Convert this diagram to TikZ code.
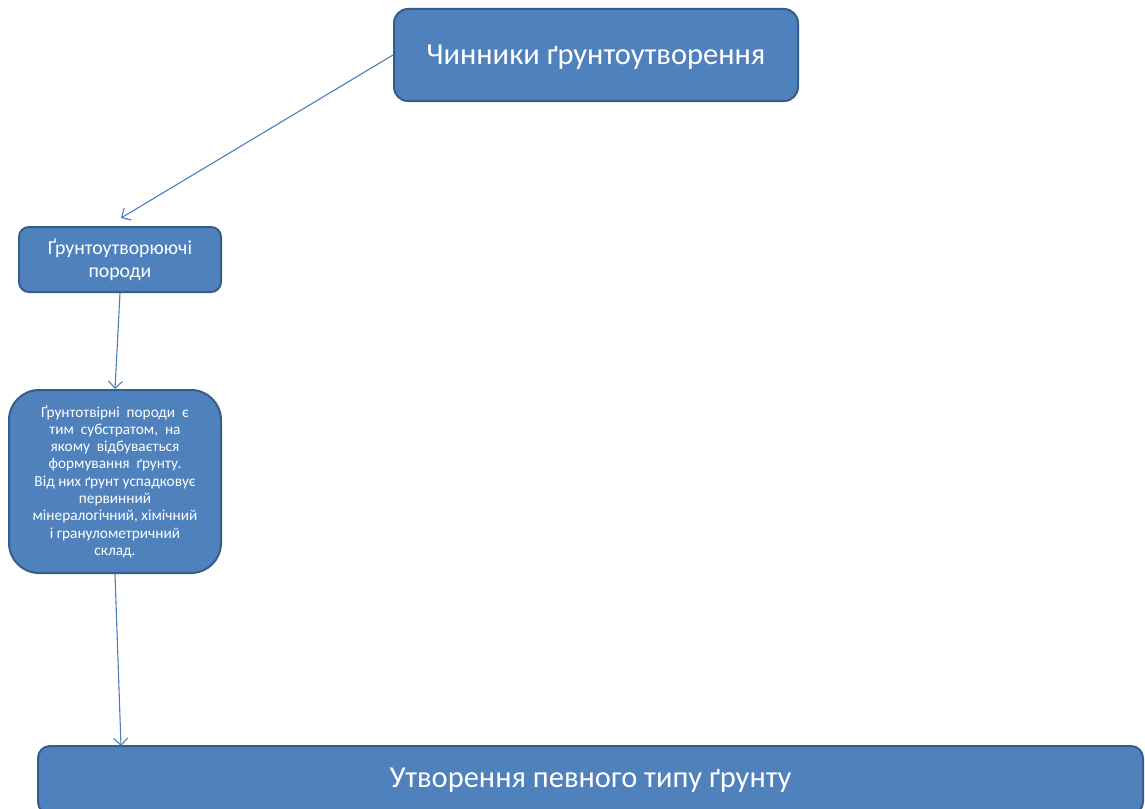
\documentclass[tikz,border=0pt]{standalone}
\usepackage{fontspec}
\setmainfont{Carlito}
\usetikzlibrary{arrows.meta}
\definecolor{boxfill}{HTML}{4F81BD}
\definecolor{boxdraw}{HTML}{385D8A}
\definecolor{arrowcol}{HTML}{4A7EBB}
\tikzset{
  bx/.style={draw=boxdraw, fill=boxfill, line width=2pt, text=white, align=center, inner sep=2pt},
  conn/.style={draw=arrowcol, line width=1.1pt, -{Straight Barb[length=7pt,width=14pt,line width=1.1pt]}}
}
\begin{document}
\begin{tikzpicture}[x=1pt,y=-1pt]
\useasboundingbox (0,0) rectangle (1145,808);
\node[bx, rounded corners=14pt, minimum width=404pt, minimum height=92pt, font=\fontsize{30.5}{36}\selectfont] (top) at (596,55) {\raisebox{-10pt}[0pt][0pt]{Чинники ґрунтоутворення}};
\node[bx, rounded corners=10pt, minimum width=202pt, minimum height=65pt, font=\fontsize{19.8}{23}\selectfont] (b2) at (120,259.5) {Ґрунтоутворюючі\\породи};
\node[bx, rounded corners=30pt, minimum width=212pt, minimum height=183pt, font=\fontsize{15.3}{17.3}\selectfont] (b3) at (115,481.5) {Ґрунтотвірні\ \ породи\ \ є\\тим\ \ субстратом,\ \ на\\якому\ \ відбувається\\формування\ \ ґрунту.\\Від них ґрунт успадковує\\первинний\\мінералогічний, хімічний\\і гранулометричний\\склад.};
\node[bx, rounded corners=12pt, minimum width=1105pt, minimum height=68pt, font=\fontsize{30.5}{36}\selectfont] (b4) at (590.5,780) {Утворення певного типу ґрунту};
\coordinate (c1) at (121,218);
\coordinate (c3) at (121,746);
\draw[conn] (top.west) -- (c1);
\draw[conn] (b2.south) -- (b3.north);
\draw[conn] (b3.south) -- (c3);
\end{tikzpicture}
\end{document}
